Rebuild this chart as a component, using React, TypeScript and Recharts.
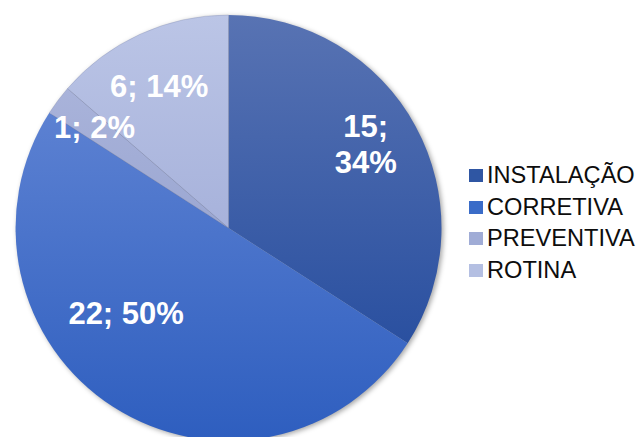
import React from "react";
import { PieChart, Pie, Cell, Legend } from "recharts";

const categories = ["INSTALAÇÃO", "CORRETIVA", "PREVENTIVA", "ROTINA"];
const values = [15, 22, 1, 6];

// gradient stops per slice (top, bottom) and legend swatch colours
const gradTop = ["#5873b3", "#5c81d2", "#a9b3da", "#bbc5e6"];
const gradBottom = ["#2a50a0", "#2e5ebf", "#9ba7d2", "#a7b2db"];
const swatch = ["#2f56a3", "#3a6cc8", "#a0acd6", "#b4bfe2"];

// label nudges (styling only)
const labelNudge = [
  [-3, -7],
  [-16, -49],
  [-6, -5],
  [-3, 4],
];

const data = categories.map((name, i) => ({ name, value: values[i] }));
const total = values.reduce((a, b) => a + b, 0);
const RAD = Math.PI / 180;

const renderLabel = (props: any) => {
  const { cx, cy, midAngle, outerRadius, index, value } = props;
  const r = outerRadius * 0.75;
  const x = cx + r * Math.cos(-midAngle * RAD) + labelNudge[index][0];
  const y = cy + r * Math.sin(-midAngle * RAD) + labelNudge[index][1];
  const pct = Math.round((value / total) * 100);
  const style = {
    fontFamily: "'Liberation Sans', Arial, sans-serif",
    fontWeight: 700,
    fontSize: 31,
    fill: "#ffffff",
  } as React.CSSProperties;
  if (index === 0) {
    return (
      <text x={x} y={y} textAnchor="middle" style={style}>
        <tspan x={x} dy={-18} dominantBaseline="central">{`${value};`}</tspan>
        <tspan x={x} dy={36} dominantBaseline="central">{`${pct}%`}</tspan>
      </text>
    );
  }
  return (
    <text x={x} y={y} textAnchor="middle" dominantBaseline="central" style={style}>
      {`${value}; ${pct}%`}
    </text>
  );
};

const renderLegend = () => (
  <div style={{ fontFamily: "'Liberation Sans', Arial, sans-serif", fontSize: 23.6, color: "#0d0d0d" }}>
    {categories.map((c, i) => (
      <div key={c} style={{ height: 31.5, display: "flex", alignItems: "center", whiteSpace: "nowrap" }}>
        <span style={{ display: "inline-block", width: 14, height: 13, background: swatch[i], marginRight: 4 }} />
        <span>{c}</span>
      </div>
    ))}
  </div>
);

export default function App() {
  return (
    <div style={{ position: "absolute", left: 0, top: 0, width: 641, height: 437, background: "#fff" }}>
      <PieChart width={641} height={437} margin={{ top: 0, right: 0, bottom: 0, left: 0 }}>
        <defs>
          {categories.map((c, i) => (
            <linearGradient key={c} id={`g${i}`} x1="0" y1="0" x2="0" y2="1">
              <stop offset="0%" stopColor={gradTop[i]} />
              <stop offset="100%" stopColor={gradBottom[i]} />
            </linearGradient>
          ))}
          <filter id="shadowBlur" x="-10%" y="-10%" width="120%" height="120%">
            <feGaussianBlur stdDeviation="2.5" />
          </filter>
        </defs>
        <Pie
          data={[{ name: "shadow", value: total }]}
          dataKey="value"
          cx={230.5}
          cy={229.5}
          outerRadius={213}
          startAngle={90}
          endAngle={-270}
          stroke="none"
          isAnimationActive={false}
          legendType="none"
          style={{ filter: "url(#shadowBlur)" }}
        >
          <Cell fill="rgba(0,0,0,0.35)" style={{ filter: "url(#shadowBlur)" }} />
        </Pie>
        <Pie
          data={data}
          dataKey="value"
          nameKey="name"
          cx={228.5}
          cy={228}
          outerRadius={213}
          startAngle={90}
          endAngle={-270}
          stroke="none"
          labelLine={false}
          label={renderLabel}
          isAnimationActive={false}
        >
          {data.map((d, i) => (
            <Cell key={d.name} fill={`url(#g${i})`} stroke={i >= 2 ? "rgba(90,100,140,0.4)" : "none"} strokeWidth={0.5} />
          ))}
        </Pie>
        <Legend
          content={renderLegend}
          layout="vertical"
          wrapperStyle={{ position: "absolute", left: 469, top: 160, width: 172 }}
        />
      </PieChart>
    </div>
  );
}
